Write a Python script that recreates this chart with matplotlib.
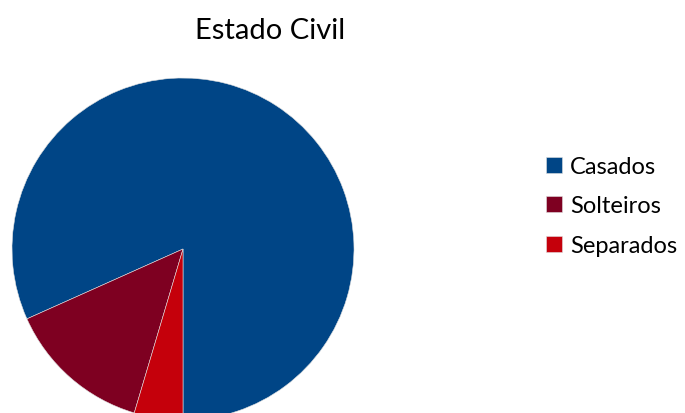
import matplotlib
matplotlib.use("Agg")
import matplotlib.pyplot as plt

plt.rcParams['font.family'] = ['Lato', 'DejaVu Sans']

categorias = ['Casados', 'Solteiros', 'Separados']
valores = [81.7, 13.7, 4.6]
cores = ['#004586', '#7e0021', '#c5000b']

W, H = 685, 414
fig = plt.figure(figsize=(W / 100, H / 100), dpi=100)

# pie centre (183, 250) px, radius 171 px
cx, cy, r = 183, 250, 171
ax = fig.add_axes([(cx - r) / W, (H - cy - r) / H, 2 * r / W, 2 * r / H])
wedges, _ = ax.pie(valores, colors=cores, startangle=-90, counterclock=True,
                   wedgeprops=dict(linewidth=0.4, edgecolor='#e0e0e0'))
ax.set_xlim(-1, 1)
ax.set_ylim(-1, 1)
ax.set_aspect('equal')
ax.axis('off')

fig.text(270 / W, 1 - 39 / H, 'Estado Civil', ha='center', va='baseline',
         fontsize=21, color='#000000')

fig.legend(wedges, categorias, loc='center left',
           bbox_to_anchor=(546 / W, 1 - 207 / H), frameon=False,
           fontsize=17, handlelength=0.68, handleheight=0.68,
           handletextpad=0.34, labelspacing=0.78, borderpad=0,
           borderaxespad=0)

fig.savefig('out.png', dpi=100)
